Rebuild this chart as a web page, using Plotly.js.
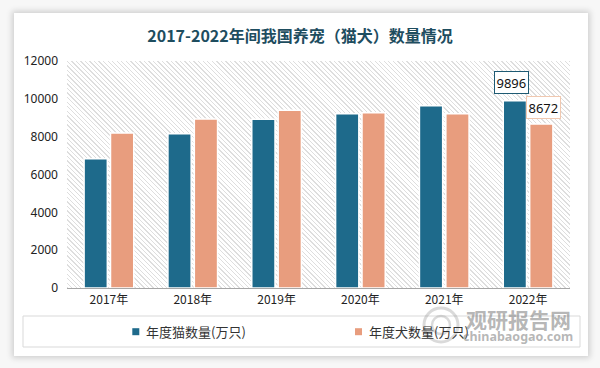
<!DOCTYPE html>
<html>
<head>
<meta charset="utf-8">
<script src="https://cdn.plot.ly/plotly-3.0.1.min.js"></script>
<style>
  html, body { margin: 0; padding: 0; background: #ffffff; }
  #wrap { position: relative; width: 600px; height: 368px; overflow: hidden; background: #f7f7f7; }
  #card { position: absolute; left: 14px; top: 13px; width: 574px; height: 343px; background: #ffffff;
          box-shadow: 0 0 6px 2px rgba(0,0,0,0.16); }
  #hatch { position: absolute; left: 67px; top: 61px; width: 503px; height: 227px;
           background: repeating-linear-gradient(45deg, #dedede 0px, #dedede 1px, #ffffff 1px, #ffffff 3.2px); }
  #chart { position: absolute; left: 0; top: 0; width: 600px; height: 368px; }
</style>
</head>
<body>
<div id="wrap">
  <div id="card"></div>
  <div id="hatch"></div>
  <div id="chart"></div>
</div>
<script>
const years = ['2017年', '2018年', '2019年', '2020年', '2021年', '2022年'];
const catValues = [6830, 8150, 8920, 9210, 9630, 9896];
const dogValues = [8200, 8930, 9400, 9260, 9210, 8672];
const catName = '年度猫数量(万只)';
const dogName = '年度犬数量(万只)';
const yTicks = [0, 2000, 4000, 6000, 8000, 10000, 12000];

const catColor = '#1e6a8b';
const dogColor = '#e89d7e';
const cjk = '"Noto Sans CJK SC", "Noto Sans", sans-serif';
const numFont = '"Noto Sans", "Liberation Sans", "Noto Sans CJK SC", sans-serif';

// plot area in pixels
const L = 67, R = 570, T = 61, B = 288;
const px = x => (x - L) / (R - L);
const py = y => (B - y) / (B - T);

const traces = [
  { type: 'bar', name: catName, x: years, y: catValues, showlegend: false,
    marker: { color: catColor, line: { color: '#ffffff', width: 1.5 } }, hoverinfo: 'x+y' },
  { type: 'bar', name: dogName, x: years, y: dogValues, showlegend: false,
    marker: { color: dogColor, line: { color: '#ffffff', width: 1.5 } }, hoverinfo: 'x+y' }
];

const last = years.length - 1;
const annotations = [
  { x: years[last], y: catValues[last], xref: 'x', yref: 'y', text: String(catValues[last]),
    showarrow: false, xanchor: 'center', yanchor: 'bottom', xshift: -17, yshift: 7,
    font: { family: numFont, size: 13, color: '#111' }, bgcolor: '#ffffff',
    bordercolor: '#1e5a73', borderwidth: 1, borderpad: 1.5 },
  { x: years[last], y: dogValues[last], xref: 'x', yref: 'y', text: String(dogValues[last]),
    showarrow: false, xanchor: 'center', yanchor: 'bottom', xshift: 15, yshift: 5,
    font: { family: numFont, size: 13, color: '#111' }, bgcolor: '#ffffff',
    bordercolor: '#f0c8b0', borderwidth: 1, borderpad: 1.5 },
  // legend texts
  { x: px(144), y: py(331.7), xref: 'paper', yref: 'paper', text: catName, showarrow: false,
    xanchor: 'left', yanchor: 'middle', font: { family: cjk, size: 13, color: '#333' } },
  { x: px(367), y: py(331.7), xref: 'paper', yref: 'paper', text: dogName, showarrow: false,
    xanchor: 'left', yanchor: 'middle', font: { family: cjk, size: 13, color: '#333' } },
  // watermark
  { x: px(518), y: py(318.5), xref: 'paper', yref: 'paper', text: '<b>观研报告网</b>', showarrow: false,
    xanchor: 'center', yanchor: 'middle', font: { family: cjk, size: 21, color: 'rgba(120,120,120,0.55)' } },
  { x: px(518), y: py(336), xref: 'paper', yref: 'paper', text: '<b>chinabaogao.com</b>', showarrow: false,
    xanchor: 'center', yanchor: 'middle', font: { family: numFont, size: 12.5, color: 'rgba(120,120,120,0.55)' } }
];

const shapes = [
  { type: 'rect', xref: 'paper', yref: 'paper', x0: px(23), x1: px(580), y0: py(316), y1: py(347),
    line: { color: '#d9d9d9', width: 1 }, fillcolor: 'rgba(0,0,0,0)' },
  { type: 'rect', xref: 'paper', yref: 'paper', x0: px(132.3), x1: px(139.3), y0: py(328.2), y1: py(335.2),
    line: { width: 0 }, fillcolor: catColor },
  { type: 'rect', xref: 'paper', yref: 'paper', x0: px(355), x1: px(362), y0: py(328.2), y1: py(335.2),
    line: { width: 0 }, fillcolor: dogColor },
  // watermark logo (faint rings)
  { type: 'circle', xref: 'paper', yref: 'paper', x0: px(424), x1: px(458), y0: py(308), y1: py(342),
    line: { color: 'rgba(150,150,150,0.35)', width: 3 }, fillcolor: 'rgba(0,0,0,0)' },
  { type: 'circle', xref: 'paper', yref: 'paper', x0: px(432), x1: px(450), y0: py(316), y1: py(334),
    line: { color: 'rgba(150,150,150,0.35)', width: 2.5 }, fillcolor: 'rgba(0,0,0,0)' }
];

const layout = {
  width: 600, height: 368,
  margin: { l: L, r: 600 - R, t: T, b: 368 - B, pad: 0 },
  paper_bgcolor: 'rgba(0,0,0,0)',
  plot_bgcolor: 'rgba(0,0,0,0)',
  title: { text: '<b>2017-2022年间我国养宠（猫犬）数量情况</b>', x: 0.5, xanchor: 'center',
           y: 1 - 36 / 368, yanchor: 'middle', font: { family: cjk, size: 16, color: '#1e4d5f' } },
  barmode: 'group',
  bargap: 0.37,
  bargroupgap: 0.12,
  showlegend: false,
  xaxis: { type: 'category', showgrid: false, zeroline: false, showline: true,
           linecolor: '#a6a6a6', linewidth: 1.2, ticks: '', ticklen: 0,
           tickfont: { family: cjk, size: 12, color: '#222' }, fixedrange: true },
  yaxis: { range: [0, 12000], tickvals: yTicks, ticktext: yTicks.map(String), showgrid: false,
           zeroline: false, showline: false, ticks: '', ticklabelstandoff: 8,
           tickfont: { family: numFont, size: 12, color: '#222' }, fixedrange: true },
  annotations: annotations,
  shapes: shapes
};

Plotly.newPlot('chart', traces, layout, { displayModeBar: false, staticPlot: true });
</script>
</body>
</html>
